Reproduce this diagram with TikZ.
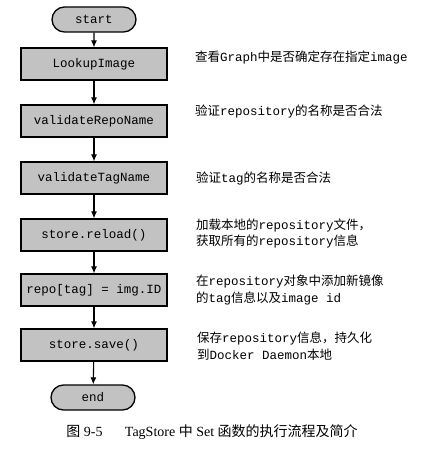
\documentclass[tikz,border=0pt]{standalone}
\usepackage{fontspec}
\setmainfont{Liberation Serif}
\setmonofont{Liberation Mono}
\newfontfamily\cjk{Noto Sans CJK SC}
\usetikzlibrary{shapes.misc,arrows.meta}
\newcommand{\zh}[1]{{\cjk #1}}
\newcommand{\la}[1]{{\ttfamily #1}}
\definecolor{boxfill}{gray}{0.76}
\tikzset{
  stepbox/.style={draw=black, line width=1.3pt, fill=boxfill, minimum width=146pt,
    minimum height=32pt, inner sep=0pt, font=\fontsize{12.5}{14}\ttfamily},
  termbox/.style={draw=black, line width=1.3pt, fill=boxfill, rounded rectangle,
    minimum width=84pt, minimum height=25pt, inner sep=0pt, font=\fontsize{12.5}{14}\ttfamily},
  note/.style={anchor=west, align=left, inner sep=0pt,
    font=\fontsize{12.5}{17}\selectfont},
  flow/.style={line width=1.1pt, -{Latex[length=7pt,width=6pt]}}
}
\begin{document}
\begin{tikzpicture}[x=1pt,y=-1pt]
\useasboundingbox (0,0) rectangle (421,452);
% flow chart column
\node[termbox] (start) at (94,19.5) {start};
\node[stepbox] (look) at (94,64) {LookupImage};
\node[stepbox] (vrepo) at (94,121) {validateRepoName};
\node[stepbox] (vtag) at (94,178) {validateTagName};
\node[stepbox] (reload) at (94,235) {store.reload()};
\node[stepbox] (assign) at (94,290) {repo[tag] = img.ID};
\node[stepbox] (save) at (94,345) {store.save()};
\node[termbox] (end) at (93,397.5) {end};
\draw[flow] (start) -- (look);
\draw[flow] (look) -- (vrepo);
\draw[flow] (vrepo) -- (vtag);
\draw[flow] (vtag) -- (reload);
\draw[flow] (reload) -- (assign);
\draw[flow] (assign) -- (save);
\draw[flow] (save) -- (end);
% descriptions
\node[note] (n1) at (195,58) {\zh{查看}\la{Graph}\zh{中是否确定存在指定}\la{image}};
\node[note] (n2) at (195,112) {\zh{验证}\la{repository}\zh{的名称是否合法}};
\node[note] (n3) at (196,178) {\zh{验证}\la{tag}\zh{的名称是否合法}};
\node[note] (n4) at (196,233.5) {\zh{加载本地的}\la{repository}\zh{文件，}\\\zh{获取所有的}\la{repository}\zh{信息}};
\node[note] (n5) at (196,290) {\zh{在}\la{repository}\zh{对象中添加新镜像}\\\zh{的}\la{tag}\zh{信息以及}\la{image id}};
\node[note] (n6) at (197,346) {\zh{保存}\la{repository}\zh{信息，持久化}\\\zh{到}\la{Docker Daemon}\zh{本地}};
% caption
\node[anchor=center, inner sep=0pt, font=\fontsize{14}{16}\selectfont] (cap) at (212,432)
  {\zh{图} 9-5\hspace{1.6em}TagStore \zh{中} Set \zh{函数的执行流程及简介}};
\end{tikzpicture}
\end{document}
